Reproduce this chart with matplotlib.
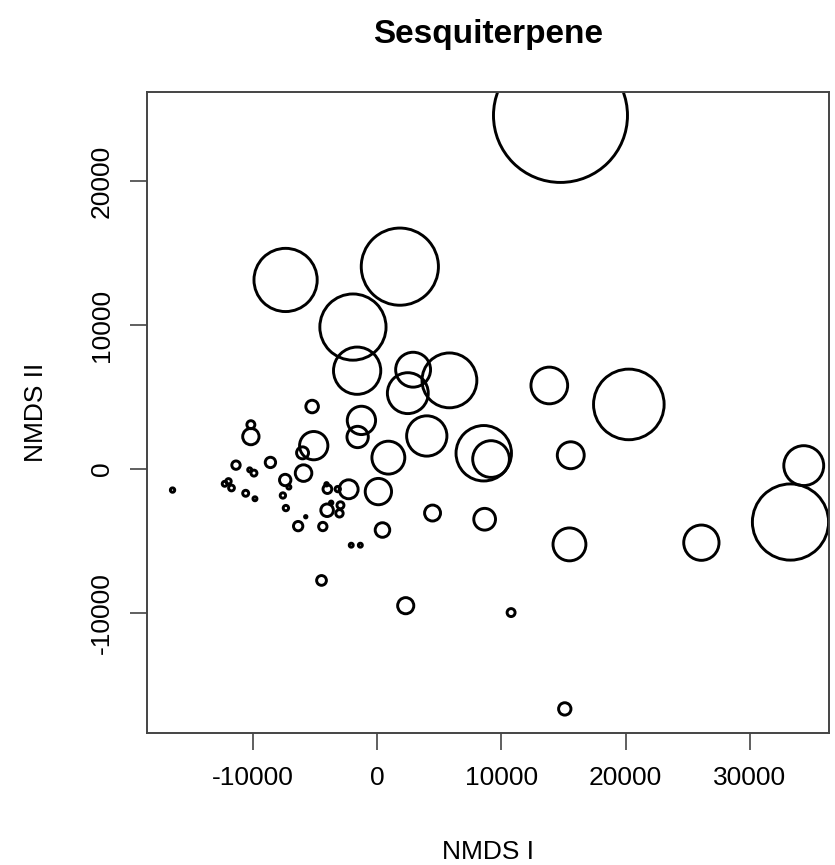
import matplotlib
matplotlib.use("Agg")
import matplotlib.pyplot as plt
import numpy as np

plt.rcParams['font.family'] = ['Liberation Sans', 'DejaVu Sans']
plt.rcParams['axes.unicode_minus'] = False

# NMDS scores and compound abundance (circle size)
nmds1 = [-7360, 1830, -1942, -1605, 2897, 2472, 5819, -5225, -1260, 13853,
         20250, 3997, 8580, 9166, 15578, 104, 907, -1565, 4462, 8652,
         433, 15474, -2079, -1348, 2303, 10779, 34319, 33252, 26085, -4470,
         15097, -10153, -10153, -11349, -8580, -10249, -9904, -11951, -12256, -11710,
         -10570, -9824, -7392, -7095, -7577, -7336, -5739, -6349, -5995, -5097,
         -5915, -4366, -3997, -2287, -4021, -2946, -3026, -3162, -4069, -3692,
         -16453, 14752]
nmds2 = [13132, 14056, 9861, 6833, 6902, 5274, 6161, 4345, 3382, 5807,
         4491, 2301, 1102, 700, 963, -1559, 797, 2231, -3049, -3479,
         -4227, -5225, -5281, -5281, -9480, -9958, 243, -3673, -5107, -7727,
         -16646, 3084, 2259, 277, 464, -49, -277, -845, -1019, -1310,
         -1677, -2058, -755, -1247, -1830, -2703, -3306, -3957, 1130, 1629,
         -277, -3985, -1386, -1400, -2855, -2509, -3070, -1386, -1053, -2335,
         -1455, 24553]
abundance = [31.7, 38.7, 33.2, 23.7, 17.5, 20.5, 27.5, 6.3, 14.2, 18.4,
             35.4, 20.2, 27.8, 18.4, 13.5, 13.2, 16.5, 10.7, 8.0, 10.9,
             7.3, 16.5, 2.0, 2.0, 8.1, 4.0, 20.0, 38.2, 17.7, 4.9,
             6.2, 4.0, 8.2, 4.2, 5.2, 2.0, 3.0, 2.7, 2.5, 2.9,
             3.0, 2.0, 5.7, 2.0, 2.7, 2.7, 1.2, 4.7, 6.0, 14.2,
             8.3, 4.2, 4.4, 9.5, 6.3, 3.5, 3.7, 2.7, 1.7, 1.7,
             2.2, 67.2]

x = np.array(nmds1, dtype=float)
y = np.array(nmds2, dtype=float)
a = np.array(abundance, dtype=float)

fig = plt.figure(figsize=(8.35, 8.65), dpi=100)
ax = fig.add_axes([0.1764, 0.153, 0.9928 - 0.1764, 0.894 - 0.153])

# radius proportional to abundance, largest circle ~67 px
r_pt = a / a.max() * 67 * 72 / 100
sc = ax.scatter(x, y, s=(2 * r_pt) ** 2, facecolors='none', edgecolors='black',
                linewidths=2.1)
sc.set_clip_path(ax.patch)

# R style 4% padding
xr = x.max() - x.min()
yr = y.max() - y.min()
ax.set_xlim(x.min() - 0.04 * xr, x.max() + 0.04 * xr)
ax.set_ylim(y.min() - 0.04 * yr, y.max() + 0.04 * yr)

ax.set_xticks([-10000, 0, 10000, 20000, 30000])
ax.set_yticks([-10000, 0, 10000, 20000])
ax.tick_params(axis='both', length=12.2, width=1.2, color='#444444',
               labelsize=19, pad=12)
ax.tick_params(axis='y', labelrotation=90)
for lab in ax.get_yticklabels():
    lab.set_va('center')
for sp in ax.spines.values():
    sp.set_linewidth(1.4)
    sp.set_color('#444444')

ax.set_title("Sesquiterpene", fontsize=24, fontweight='bold', pad=35)
ax.set_xlabel("NMDS I", fontsize=19, labelpad=36)
ax.set_ylabel("NMDS II", fontsize=19, labelpad=30)

fig.savefig("out.png", dpi=100)
